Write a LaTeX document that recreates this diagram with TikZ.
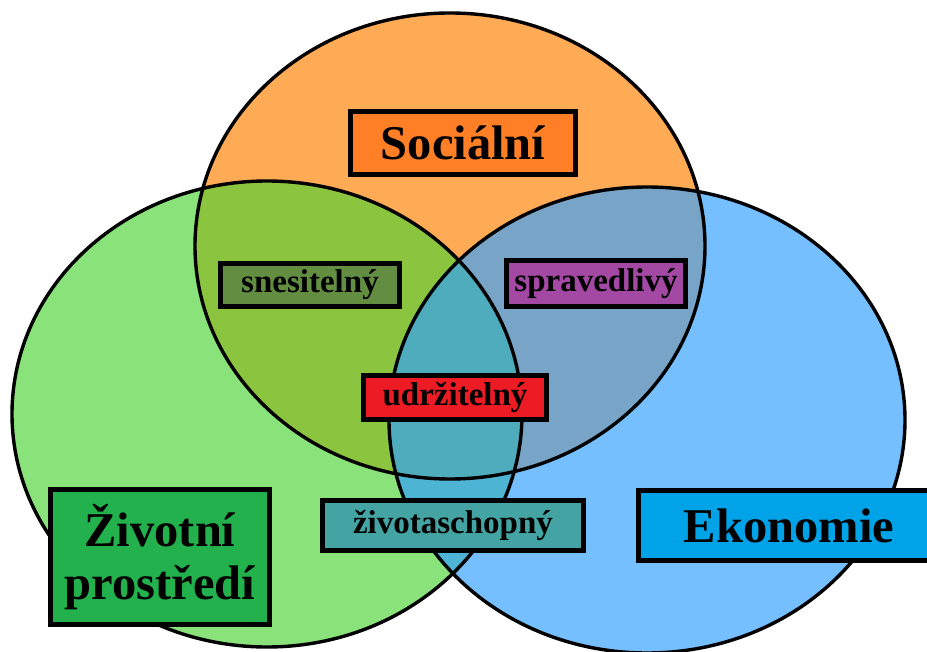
\documentclass[tikz,border=0pt]{standalone}
\usepackage{fontspec}
\setmainfont{Liberation Serif}

% fills of the three sets and of their overlaps
\definecolor{socfill}{HTML}{FFAA55}
\definecolor{envfill}{HTML}{8AE27A}
\definecolor{ecofill}{HTML}{75BFFF}
\definecolor{socenv}{HTML}{8BC53F}
\definecolor{soceco}{HTML}{78A4C8}
\definecolor{enveco}{HTML}{4EB4D3}
\definecolor{allthree}{HTML}{4FACBD}
% label boxes
\definecolor{socbox}{HTML}{FF7F27}
\definecolor{envbox}{HTML}{22B14C}
\definecolor{ecobox}{HTML}{00A2E8}
\definecolor{bearbox}{HTML}{638E42}
\definecolor{equitbox}{HTML}{A349A4}
\definecolor{sustbox}{HTML}{ED1C24}
\definecolor{viabox}{HTML}{44A4A4}

\tikzset{
  setline/.style={draw=black, line width=3.4pt},
  labelbox/.style={draw=black, line width=5pt, inner sep=0pt, align=center,
    font=\bfseries},
  biglabel/.style={labelbox, font=\fontsize{48.5}{53}\selectfont\bfseries},
  smalllabel/.style={labelbox, font=\fontsize{33}{36}\selectfont\bfseries},
}

\begin{document}
\begin{tikzpicture}[x=1pt, y=-1pt]
  \clip (0,0) rectangle (927,652);
  \fill[white] (0,0) rectangle (927,652);

  % centres of the three sets
  \coordinate (cs) at (450,246);
  \coordinate (ce) at (267,414);
  \coordinate (cc) at (647,420);

  \def\socset{(cs) ellipse [x radius=255pt, y radius=233pt]}
  \def\envset{(ce) ellipse [x radius=255pt, y radius=233pt]}
  \def\ecoset{(cc) ellipse [x radius=258pt, y radius=233pt]}

  % single sets
  \fill[socfill] \socset;
  \fill[envfill] \envset;
  \fill[ecofill] \ecoset;

  % pairwise overlaps
  \begin{scope}
    \clip \socset;
    \fill[socenv] \envset;
    \fill[soceco] \ecoset;
  \end{scope}
  \begin{scope}
    \clip \envset;
    \fill[enveco] \ecoset;
  \end{scope}
  % common part
  \begin{scope}
    \clip \socset;
    \clip \envset;
    \fill[allthree] \ecoset;
  \end{scope}

  % outlines
  \draw[setline] \socset;
  \draw[setline] \envset;
  \draw[setline] \ecoset;

  % labels
  \node[biglabel, fill=socbox, minimum width=225pt, minimum height=63pt]
    (social) at (463,143) {Sociální};
  \node[biglabel, fill=envbox, minimum width=219pt, minimum height=135pt]
    (environment) at (160,557) {Životní\\prostředí};
  \node[biglabel, fill=ecobox, minimum width=301pt, minimum height=70pt]
    (economy) at (789,525.5) {Ekonomie};

  \node[smalllabel, fill=bearbox, minimum width=179pt, minimum height=43pt]
    (bearable) at (310,285) {snesitelný};
  \node[smalllabel, fill=equitbox, minimum width=179pt, minimum height=46pt]
    (equitable) at (596,283.5) {spravedlivý};
  \node[smalllabel, fill=sustbox, minimum width=183pt, minimum height=44pt]
    (sustainable) at (455,397.5) {udržitelný};
  \node[smalllabel, fill=viabox, minimum width=261pt, minimum height=50pt]
    (viable) at (453,525.5) {životaschopný};
\end{tikzpicture}
\end{document}
